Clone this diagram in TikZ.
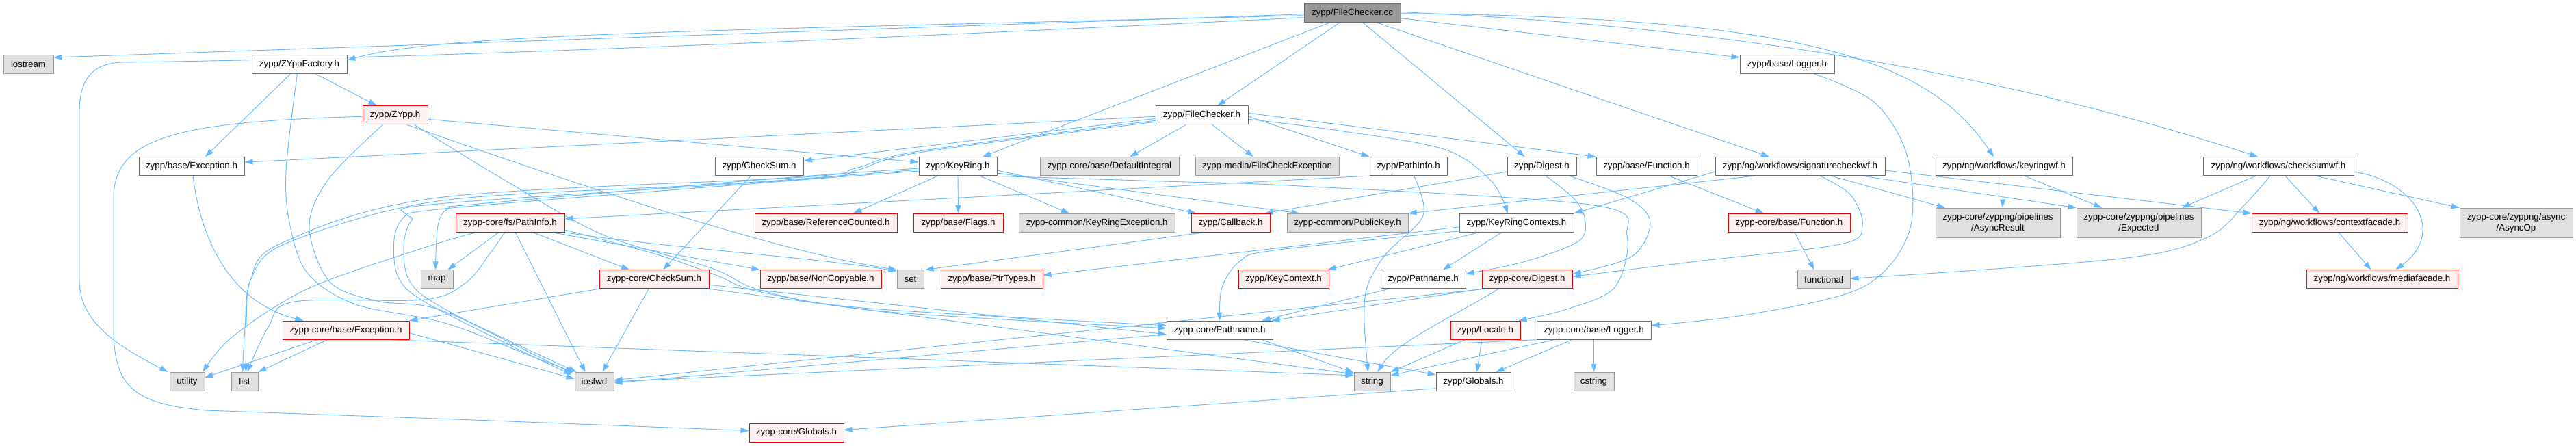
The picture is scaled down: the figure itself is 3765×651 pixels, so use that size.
\documentclass[tikz,border=0pt]{standalone}
\usepackage{fontspec}
\setmainfont{Liberation Sans}
\usetikzlibrary{arrows.meta,backgrounds}
\definecolor{edgec}{HTML}{63B8FF}
\definecolor{redfill}{HTML}{FFF0F0}
\definecolor{grayfill}{HTML}{E0E0E0}
\definecolor{grayline}{HTML}{999999}
\definecolor{darkline}{HTML}{666666}
\definecolor{rootfill}{HTML}{999999}
\tikzset{
 nbox/.style={rectangle, inner sep=0pt, minimum height=27pt, line width=1pt, font=\fontsize{13.3pt}{15.8pt}\selectfont, align=center},
 wbox/.style={nbox, draw=darkline, fill=white},
 rbox/.style={nbox, draw=red, fill=redfill},
 gbox/.style={nbox, draw=grayline, fill=grayfill},
 rootbox/.style={nbox, draw=darkline, fill=rootfill},
 tallbox/.style={minimum height=43pt},
 dep/.style={draw=edgec, line width=0.9pt, -{Triangle[length=12pt,width=8pt]}},
 smoothp/.style={smooth, tension=0.55}
}
\begin{document}
\begin{tikzpicture}[x=1pt,y=-1pt]
\useasboundingbox (0,0) rectangle (3765,651);
% row 0
\node[rootbox, minimum width=141pt] (fcc) at (1976.5,18.7) {zypp/FileChecker.cc};
% row 1
\node[gbox, minimum width=73pt] (iostream) at (41.5,94) {iostream};
\node[wbox, minimum width=139pt] (zyppfactory) at (437.5,94) {zypp/ZYppFactory.h};
\node[wbox, minimum width=138pt] (baselogger) at (2612,94) {zypp/base/Logger.h};
% row 2
\node[rbox, minimum width=95pt] (zypph) at (577.5,168.3) {zypp/ZYpp.h};
\node[wbox, minimum width=135pt] (fch) at (1756.5,168.3) {zypp/FileChecker.h};
% row 3
\node[wbox, minimum width=154pt] (baseexc) at (280,243.1) {zypp/base/Exception.h};
\node[wbox, minimum width=129pt] (checksum) at (1109.5,243.1) {zypp/CheckSum.h};
\node[wbox, minimum width=114pt] (keyring) at (1400,243.1) {zypp/KeyRing.h};
\node[gbox, minimum width=203pt] (defint) at (1621.5,243.1) {zypp-core/base/DefaultIntegral};
\node[gbox, minimum width=210pt] (fcexc) at (1852,243.1) {zypp-media/FileCheckException};
\node[wbox, minimum width=113pt] (pathinfo) at (2058.5,243.1) {zypp/PathInfo.h};
\node[wbox, minimum width=101pt] (digest) at (2253.5,243.1) {zypp/Digest.h};
\node[wbox, minimum width=147pt] (basefunc) at (2406.5,243.1) {zypp/base/Function.h};
\node[wbox, minimum width=248pt] (sigwf) at (2631,243.1) {zypp/ng/workflows/signaturecheckwf.h};
\node[wbox, minimum width=200pt] (keyringwf) at (2929,243.1) {zypp/ng/workflows/keyringwf.h};
\node[wbox, minimum width=220pt] (checksumwf) at (3330,243.1) {zypp/ng/workflows/checksumwf.h};
% row 4
\node[rbox, minimum width=159pt] (pathinfocore) at (745.5,325.9) {zypp-core/fs/PathInfo.h};
\node[rbox, minimum width=208pt] (refcount) at (1207,325.9) {zypp/base/ReferenceCounted.h};
\node[rbox, minimum width=131pt] (flags) at (1400.5,325.9) {zypp/base/Flags.h};
\node[gbox, minimum width=228pt] (krexc) at (1603,325.9) {zypp-common/KeyRingException.h};
\node[rbox, minimum width=115pt] (callback) at (1798.5,325.9) {zypp/Callback.h};
\node[gbox, minimum width=177pt] (pubkey) at (1969.5,325.9) {zypp-common/PublicKey.h};
\node[wbox, minimum width=167pt] (krctx) at (2216.5,325.9) {zypp/KeyRingContexts.h};
\node[rbox, minimum width=178pt] (corefunc) at (2615,325.9) {zypp-core/base/Function.h};
\node[gbox, tallbox, minimum width=182pt] (asyncres) at (2920,325.7) {zypp-core/zyppng/pipelines\\/AsyncResult};
\node[gbox, tallbox, minimum width=182pt] (expected) at (3126,325.7) {zypp-core/zyppng/pipelines\\/Expected};
\node[rbox, minimum width=228pt] (ctxfacade) at (3405,325.9) {zypp/ng/workflows/contextfacade.h};
\node[gbox, tallbox, minimum width=165pt] (asyncop) at (3677.5,325.7) {zypp-core/zyppng/async\\/AsyncOp};
% row 5
\node[gbox, minimum width=47pt] (map) at (638.5,408.3) {map};
\node[rbox, minimum width=160pt] (checksumcore) at (956,408.3) {zypp-core/CheckSum.h};
\node[rbox, minimum width=177pt] (noncopy) at (1199.5,408.3) {zypp/base/NonCopyable.h};
\node[gbox, minimum width=39pt] (set) at (1330.5,408.3) {set};
\node[rbox, minimum width=149pt] (ptrtypes) at (1449.5,408.3) {zypp/base/PtrTypes.h};
\node[rbox, minimum width=132pt] (keyctx) at (1876,408.3) {zypp/KeyContext.h};
\node[wbox, minimum width=124pt] (pathname) at (2080,408.3) {zypp/Pathname.h};
\node[rbox, minimum width=132pt] (digestcore) at (2232,408.3) {zypp-core/Digest.h};
\node[gbox, minimum width=77pt] (functional) at (2665.5,408.3) {functional};
\node[rbox, minimum width=221pt] (mediafacade) at (3481.5,408.3) {zypp/ng/workflows/mediafacade.h};
% row 6
\node[rbox, minimum width=185pt] (coreexc) at (505.5,482.7) {zypp-core/base/Exception.h};
\node[wbox, minimum width=155pt] (pathnamecore) at (1782.5,482.7) {zypp-core/Pathname.h};
\node[rbox, minimum width=102pt] (locale) at (2171,482.7) {zypp/Locale.h};
\node[wbox, minimum width=167pt] (corelogger) at (2329.5,482.7) {zypp-core/base/Logger.h};
% row 7
\node[gbox, minimum width=51pt] (utility) at (273.5,557.8) {utility};
\node[gbox, minimum width=39pt] (list) at (357.5,557.8) {list};
\node[gbox, minimum width=57pt] (iosfwd) at (868.5,557.8) {iosfwd};
\node[gbox, minimum width=53pt] (string) at (2005.5,557.8) {string};
\node[wbox, minimum width=109pt] (globals) at (2153.5,557.8) {zypp/Globals.h};
\node[gbox, minimum width=59pt] (cstring) at (2329.5,557.8) {cstring};
% row 8
\node[rbox, minimum width=138pt] (coreglobals) at (1164,632.5) {zypp-core/Globals.h};

\begin{pgfonlayer}{background}
\fill[white] (0,0) rectangle (3765,651);
% FileChecker.cc
\draw[dep] ([yshift=-2pt]fcc.west) -- ([yshift=-4pt]iostream.north east);
\draw[dep] ([yshift=-4pt]fcc.west) .. controls (1000,45) and (640,50) .. ([yshift=6pt]zyppfactory.east);
\draw[dep] ([yshift=-7pt]fcc.west) .. controls (1200,60) and (600,86) .. (180,91) .. controls (135,92) and (116,115) .. (116,165) -- (116,410) .. controls (116,470) and (170,505) .. ([xshift=-2pt]utility.north west);
\draw[dep] ([xshift=-18pt]fcc.south) -- ([xshift=23pt]fch.north);
\draw[dep] ([xshift=-32pt]fcc.south) -- ([xshift=36pt]keyring.north);
\draw[dep] ([xshift=15pt]fcc.south) -- ([xshift=-25pt]digest.north);
\draw[dep] ([xshift=35pt]fcc.south) -- ([xshift=-45pt]sigwf.north);
\draw[dep] ([yshift=-8pt]fcc.east) -- ([yshift=10pt]baselogger.west);
\draw[dep] ([yshift=-1pt]fcc.east) .. controls (2650,25) and (2820,90) .. ([xshift=-15pt]keyringwf.north);
\draw[dep] ([yshift=1pt]fcc.east) .. controls (2700,45) and (3100,165) .. ([xshift=-30pt]checksumwf.north);
% ZYppFactory.h
\draw[dep] ([xshift=-13pt]zyppfactory.south) -- ([xshift=20pt]baseexc.north);
\draw[dep] ([xshift=24pt]zyppfactory.south) -- ([xshift=-27pt]zypph.north);
\draw[dep] plot[smoothp] coordinates {([xshift=-3pt]zyppfactory.south) (418,250) (424,330) (450,400) (520,445) (650,472) (780,522) ([xshift=-1pt]iosfwd.north west)};
% ZYpp.h
\draw[dep] ([yshift=-6pt]zypph.east) -- ([yshift=6pt]keyring.west);
\draw[dep] ([yshift=-2pt]zypph.west) .. controls (260,178) and (166,200) .. (166,290) -- (166,480) .. controls (166,570) and (200,590) .. (300,600) -- (640,612) -- ([yshift=3pt]coreglobals.west);
\draw[dep] plot[smoothp] coordinates {([xshift=-18pt]zypph.south) (480,262) (452,332) (482,412) (551,440) (640,452) (782,516) ([xshift=3pt]iosfwd.north west)};
\draw[dep] ([xshift=17pt]zypph.south) .. controls (900,290) and (1150,370) .. (set.north west);
\draw[dep] plot[smoothp] coordinates {([xshift=28pt]zypph.south) (742,266) (881,343) (1040,392) (1111,424) (1260,450) ([yshift=7pt]pathnamecore.west)};
% zypp/base/Exception.h
\draw[dep] ([xshift=2pt]baseexc.south) .. controls (292,340) and (330,440) .. ([xshift=-62pt]coreexc.north);
% FileChecker.h
\draw[dep] ([yshift=-2pt]fch.west) -- ([yshift=6pt]baseexc.east);
\draw[dep] ([yshift=-5pt]fch.west) -- ([yshift=8pt]checksum.east);
\draw[dep] plot[smoothp] coordinates {([yshift=-8pt]fch.west) (1343,221) (1250,246) (1174,259) (640,289) (410,356) (366,410) (358,480) ([xshift=-3pt]list.north)};
\draw[dep] plot[smoothp] coordinates {([yshift=-10pt]fch.west) (1343,223) (1252,249) (1174,262) (640,298) (592,316) (576,350) (582,405) (622,442) (760,512) ([xshift=-4pt,yshift=-4pt]iosfwd.north west)};
\draw[dep] ([xshift=-23pt]fch.south) -- ([xshift=30pt]defint.north);
\draw[dep] ([xshift=15pt]fch.south) -- ([xshift=-20pt]fcexc.north);
\draw[dep] ([yshift=-2pt]fch.east) -- (pathinfo.north west);
\draw[dep] ([yshift=3pt]fch.east) -- (basefunc.north west);
\draw[dep] plot[smoothp] coordinates {([yshift=-6pt]fch.east) (1950,190) (2110,218) (2180,265) ([xshift=-13pt]krctx.north)};
% CheckSum.h
\draw[dep] ([xshift=-12pt]checksum.south) -- ([xshift=13pt]checksumcore.north);
% KeyRing.h
\draw[dep] ([xshift=-29pt]keyring.south) -- ([xshift=40pt]refcount.north);
\draw[dep] (keyring.south) -- (flags.north);
\draw[dep] ([xshift=32pt]keyring.south) -- ([xshift=-40pt]krexc.north);
\draw[dep] ([yshift=-6pt]keyring.east) -- ([xshift=-50pt]callback.north);
\draw[dep] ([yshift=-10pt]keyring.east) -- ([xshift=-70pt]pubkey.north);
\draw[dep] plot[smoothp] coordinates {([yshift=-3pt]keyring.west) (1120,262) (700,298) (655,305) (640,330) ([xshift=-2pt]map.north)};
\draw[dep] plot[smoothp] coordinates {([yshift=-5pt]keyring.west) (1120,265) (1000,272) (640,294) (420,355) (368,405) (360,470) ([xshift=2pt]list.north)};
\draw[dep] plot[smoothp] coordinates {([yshift=-7pt]keyring.west) (1120,267) (640,306) (602,322) (590,360) (598,410) (640,446) (772,514) ([xshift=-2pt,yshift=-2pt]iosfwd.north west)};
\draw[dep] plot[smoothp] coordinates {([xshift=45pt]keyring.south) (1700,265) (1900,272) (2330,300) (2378,345) (2360,420) (2290,452) ([xshift=-3pt]locale.north east)};
% PathInfo.h
\draw[dep] (pathinfo.south west) -- ([yshift=6pt]pathinfocore.east);
\draw[dep] plot[smoothp] coordinates {([xshift=8pt]pathinfo.south) (2080,315) (2025,372) (1998,420) (1994,470) ([xshift=-6pt]string.north)};
% Digest.h
\draw[dep] plot[smoothp] coordinates {([xshift=40pt]digest.south) (2380,290) (2412,325) (2385,375) ([yshift=8pt]digestcore.east)};
\draw[dep] plot[smoothp] coordinates {([xshift=6pt]digest.south) (2300,290) (2316,318) (2308,352) (2230,382) ([yshift=8pt]pathname.east)};
\draw[dep] ([yshift=-8pt]digest.west) -- ([xshift=-8pt]callback.north east);
% base/Function.h
\draw[dep] ([xshift=33pt]basefunc.south) -- ([xshift=-37pt]corefunc.north);
\draw[dep] ([xshift=8pt]corefunc.south) -- ([xshift=-14pt]functional.north);
% KeyRingContexts.h
\draw[dep] ([xshift=-22pt]krctx.south) -- ([xshift=29pt]pathname.north);
\draw[dep] ([xshift=-55pt]krctx.south) -- ([xshift=-2pt]keyctx.north east);
\draw[dep] ([yshift=-6pt]krctx.west) -- ([yshift=6pt]ptrtypes.east);
\draw[dep] plot[smoothp] coordinates {([yshift=-12pt]krctx.west) (1862,366) (1812,382) (1786,420) (pathnamecore.north)};
% signaturecheckwf.h
\draw[dep] ([xshift=45pt]sigwf.south) -- ([xshift=-77pt]asyncres.north);
\draw[dep] ([xshift=90pt]sigwf.south) -- (expected.north west);
\draw[dep] ([yshift=-6pt]sigwf.east) -- (ctxfacade.north west);
\draw[dep] ([yshift=-8pt]sigwf.west) -- (krctx.north east);
\draw[dep] ([xshift=-65pt]sigwf.south) -- (pubkey.north east);
\draw[dep] plot[smoothp] coordinates {([xshift=29pt]sigwf.south) (2705,285) (2722,330) (2690,357) (2480,382) ([yshift=4pt]digestcore.east)};
% keyringwf.h
\draw[dep] ([xshift=-2pt]keyringwf.south) -- ([xshift=7pt]asyncres.north);
\draw[dep] ([xshift=30pt]keyringwf.south) -- ([xshift=-54pt]expected.north);
% checksumwf.h
\draw[dep] ([xshift=-33pt]checksumwf.south) -- ([xshift=63pt]expected.north);
\draw[dep] ([xshift=10pt]checksumwf.south) -- ([xshift=-15pt]ctxfacade.north);
\draw[dep] ([xshift=54pt]checksumwf.south) -- (asyncop.north west);
\draw[dep] ([yshift=-8pt]checksumwf.east) .. controls (3530,265) and (3575,340) .. ([xshift=20pt]mediafacade.north);
\draw[dep] plot[smoothp] coordinates {([xshift=-12pt]checksumwf.south) (3280,300) (3226,347) (3100,378) ([yshift=1pt]functional.east)};
\draw[dep] ([xshift=13pt]ctxfacade.south) -- ([xshift=-16pt]mediafacade.north);
% zypp-core/fs/PathInfo.h
\draw[dep] ([xshift=-17pt]pathinfocore.south) -- ([xshift=16pt]map.north);
\draw[dep] plot[smoothp] coordinates {([xshift=-50pt]pathinfocore.south) (620,362) (450,422) (340,492) ([xshift=-3pt]utility.north east)};
\draw[dep] plot[smoothp] coordinates {([xshift=-8pt]pathinfocore.south) (715,372) (681,413) (620,438) (430,441) (392,478) ([xshift=4pt]list.north)};
\draw[dep] ([xshift=8pt]pathinfocore.south) -- ([xshift=-13pt]iosfwd.north);
\draw[dep] ([xshift=34pt]pathinfocore.south) -- ([xshift=-36pt]checksumcore.north);
\draw[dep] ([xshift=62pt]pathinfocore.south) -- (noncopy.north west);
\draw[dep] (pathinfocore.south east) .. controls (1000,365) and (1180,375) .. ([yshift=-2pt]set.north west);
\draw[dep] plot[smoothp] coordinates {([yshift=4pt]pathinfocore.south east) (960,372) (1046,402) (1112,427) (1300,456) ([yshift=3pt]pathnamecore.west)};
% zypp-core/CheckSum.h
\draw[dep] (checksumcore.south west) -- (coreexc.north east);
\draw[dep] ([xshift=-8pt]checksumcore.south) -- ([xshift=12pt]iosfwd.north);
\draw[dep] ([yshift=-8pt]checksumcore.east) -- ([yshift=-6pt]pathnamecore.west);
\draw[dep] (checksumcore.south east) -- ([yshift=-3pt]string.north west);
% zypp-core/base/Exception.h
\draw[dep] ([xshift=-42pt]coreexc.south) -- ([yshift=6pt]utility.east);
\draw[dep] ([xshift=-27pt]coreexc.south) -- (list.north east);
\draw[dep] ([yshift=-4pt]coreexc.east) -- ([yshift=4pt]iosfwd.west);
\draw[dep] ([xshift=64pt]coreexc.south) -- ([yshift=-5pt]string.north west);
% zypp/Pathname.h
\draw[dep] ([xshift=-50pt]pathname.south) -- ([xshift=-16pt]pathnamecore.north east);
% zypp-core/Pathname.h
\draw[dep] ([yshift=-6pt]pathnamecore.west) -- ([yshift=-2pt]iosfwd.east);
\draw[dep] ([xshift=62pt]pathnamecore.south) -- ([yshift=-1pt]string.north west);
\draw[dep] ([xshift=35pt]pathnamecore.south) -- ([yshift=-4pt]globals.north west);
% zypp-core/Digest.h
\draw[dep] ([xshift=-42pt]digestcore.south) .. controls (2130,460) and (2040,500) .. ([xshift=8pt]string.north);
\draw[dep] (digestcore.south west) -- ([xshift=-2pt]pathnamecore.north east);
\draw[dep] ([xshift=6pt]digestcore.south west) -- ([yshift=2pt]iosfwd.east);
% zypp/Locale.h
\draw[dep] ([xshift=-30pt]locale.south) -- (string.north east);
\draw[dep] ([xshift=-5pt]locale.south) -- ([xshift=5pt]globals.north);
% zypp-core/base/Logger.h
\draw[dep] ([xshift=-58pt]corelogger.south) -- ([yshift=-5pt]string.north east);
\draw[dep] ([xshift=-32pt]corelogger.south) -- ([xshift=33pt]globals.north);
\draw[dep] (corelogger.south) -- (cstring.north);
\draw[dep] (corelogger.south west) -- (iosfwd.east);
% zypp/base/Logger.h
\draw[dep] plot[smoothp] coordinates {([xshift=40pt]baselogger.south) (2740,150) (2788,230) (2790,340) (2722,420) (2560,459) ([yshift=7pt]corelogger.east)};
% zypp/Globals.h
\draw[dep] ([yshift=-10pt]globals.west) -- ([yshift=4pt]coreglobals.east);
% zypp/Callback.h
\draw[dep] ([xshift=-40pt]callback.south) -- ([xshift=2pt]set.north east);
\end{pgfonlayer}
\end{tikzpicture}
\end{document}
